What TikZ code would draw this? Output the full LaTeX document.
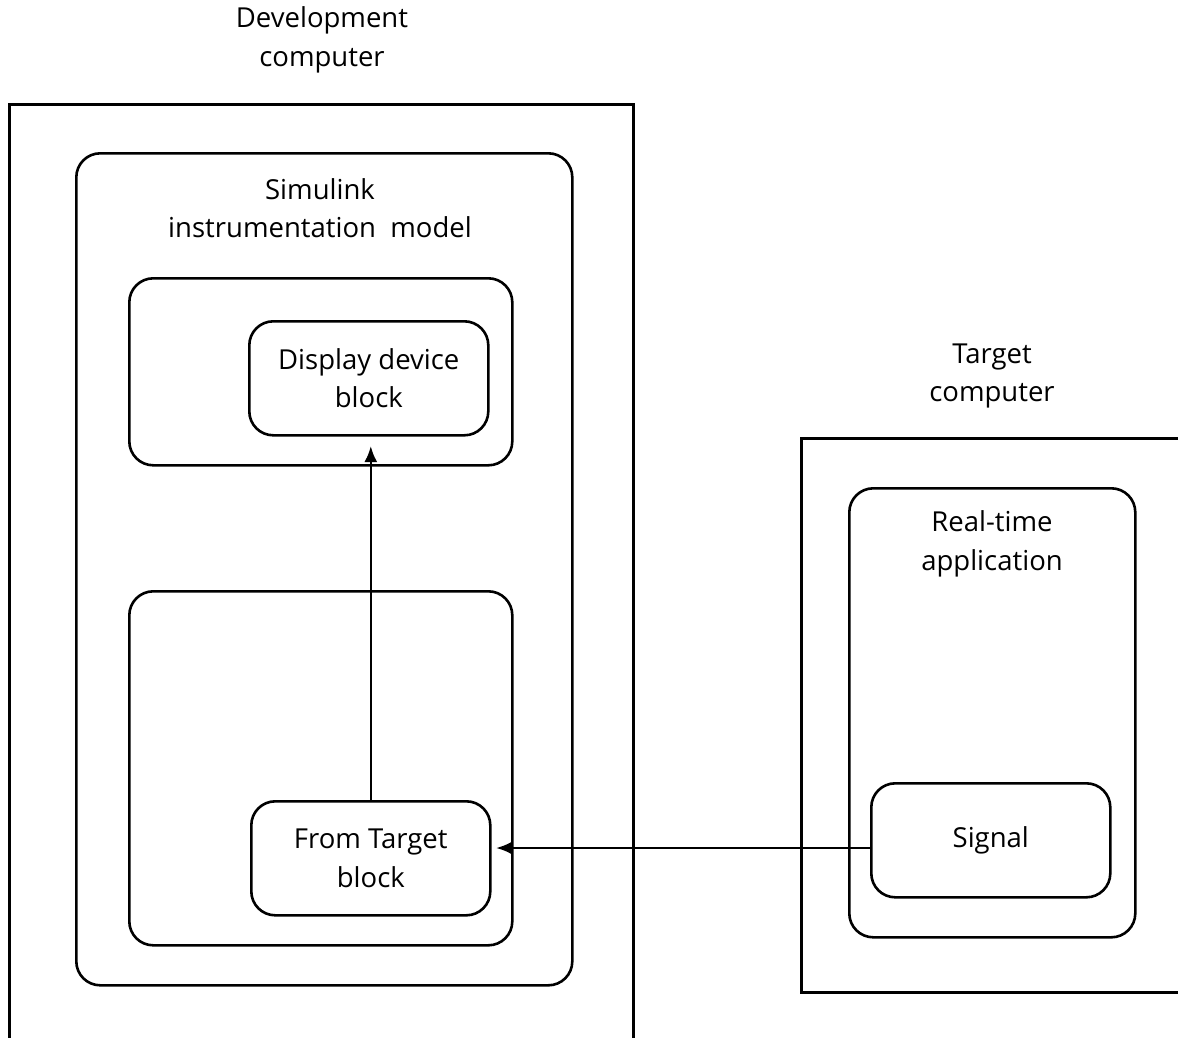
\documentclass[tikz,border=0pt]{standalone}
\usepackage{fontspec}
\setmainfont{Open Sans}
\usetikzlibrary{arrows.meta}
\tikzset{
  frame/.style={draw, line width=2.6pt, rectangle, inner sep=0pt},
  rbox/.style={draw, line width=2.6pt, rectangle, rounded corners=24pt, inner sep=0pt},
  lbl/.style={align=center, inner sep=0pt, font=\fontsize{27.5}{38.5}\selectfont},
  arr/.style={line width=2.6pt, -{Latex[length=16pt,width=13pt]}}
}
\begin{document}
\begin{tikzpicture}[x=1pt,y=-1pt]
\useasboundingbox (0,0) rectangle (1178,1037);
\clip (0,0) rectangle (1178,1037);
% development computer
\node[frame, minimum width=624pt, minimum height=1000pt, anchor=north west] (dev) at (8,103) {};
\node[lbl] (devl) at (322,40) {Development\\computer};
\node[rbox, minimum width=496pt, minimum height=832pt, anchor=north west] (sim) at (75,152) {};
\node[lbl] (siml) at (320,208) {Simulink\\instrumentation\ \ model};
\node[rbox, minimum width=383pt, minimum height=187pt, anchor=north west] (up) at (128,277) {};
\node[rbox, minimum width=239pt, minimum height=114pt, anchor=north west, lbl] (disp) at (248,320) {Display device\\block};
\node[rbox, minimum width=383pt, minimum height=354pt, anchor=north west] (low) at (128,590) {};
\node[rbox, minimum width=239pt, minimum height=114pt, anchor=north west, lbl] (ft) at (250,800) {From Target\\block};
% target computer
\node[frame, minimum width=500pt, minimum height=554pt, anchor=north west] (tgt) at (800,437) {};
\node[lbl] (tgtl) at (992,376) {Target\\computer};
\node[rbox, minimum width=286pt, minimum height=449pt, anchor=north west] (rta) at (848,487) {};
\node[lbl] (rtal) at (992,544) {Real-time\\application};
\node[rbox, minimum width=239pt, minimum height=114pt, anchor=north west, lbl] (sig) at (870,782) {Signal};
% connectors
\coordinate (tipv) at (369,446);
\coordinate (tiph) at (496,848);
\draw[arr] (ft.north) -- (ft.north |- tipv);
\draw[arr] (sig.west |- tiph) -- (tiph);
\end{tikzpicture}
\end{document}
